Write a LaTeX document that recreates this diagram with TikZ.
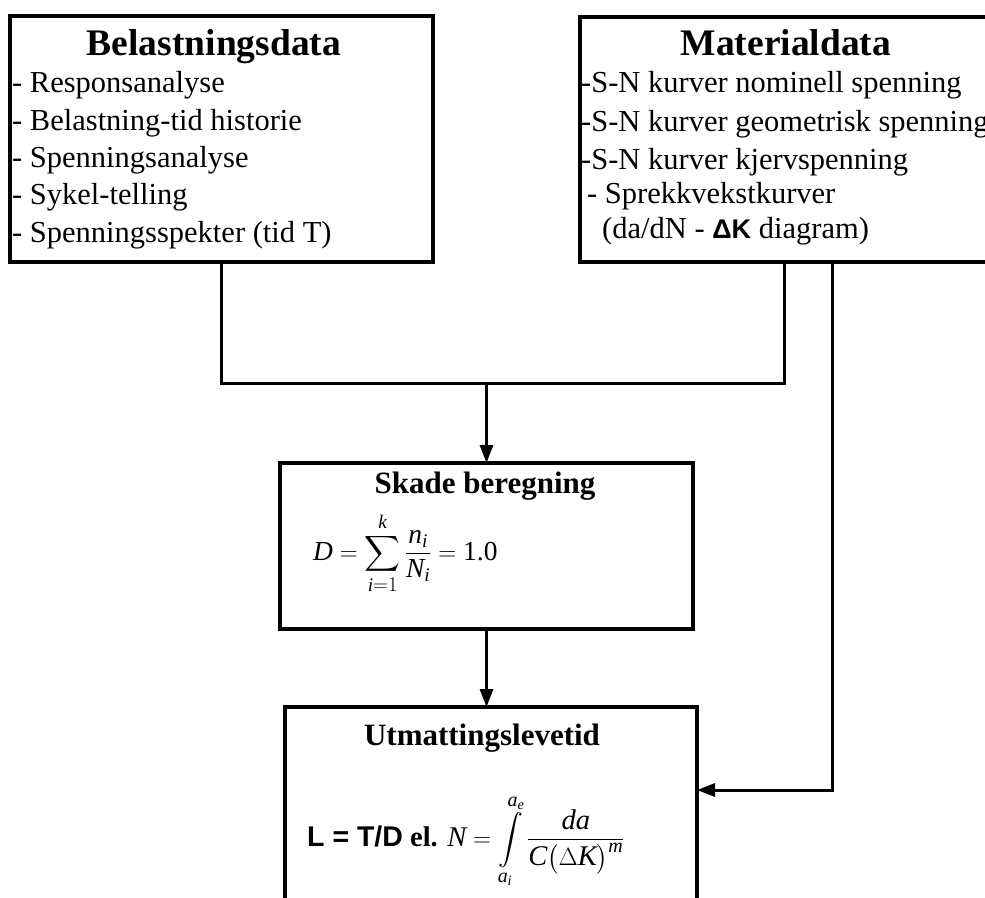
\documentclass[tikz,border=0pt]{standalone}
\usepackage{amsmath}
\usepackage{fontspec}
\setmainfont{Liberation Serif}
\setsansfont{Liberation Sans}
\usetikzlibrary{arrows.meta}

\newcommand\fsz[1]{\fontsize{#1}{#1}\selectfont}
\newcommand\vi[1]{\textit{#1}}

\begin{document}
\begin{tikzpicture}[x=1pt,y=-1pt,
  box/.style={draw, line width=3.2pt, rectangle, inner sep=0pt, outer sep=0pt},
  conn/.style={line width=3pt},
  arr/.style={conn, -{Triangle[length=18pt,width=13pt]}},
  head/.style={inner sep=0pt, anchor=base, font=\fsz{37.5}\bfseries},
  subhead/.style={inner sep=0pt, anchor=base, font=\fsz{31}\bfseries},
  item/.style={inner sep=0pt, anchor=base west, font=\fsz{30.5}},
  formula/.style={inner sep=0pt, anchor=base west},
]
\fill[white] (0,0) rectangle (985,897);
\useasboundingbox (0,0) rectangle (985,897);

% boxes
\node[box, minimum width=423pt, minimum height=246pt] (bel) at (221.5,139) {};
\node[box, minimum width=408pt, minimum height=245pt] (mat) at (784,139.5) {};
\node[box, minimum width=413pt, minimum height=166pt] (skade) at (486.5,546) {};
\node[box, minimum width=412pt, minimum height=253pt] (utm) at (491,833.5) {};

% load data
\node[head] (belT) at (214,55) {Belastningsdata};
\node[item] (bel1) at (12,92) {- Responsanalyse};
\node[item] (bel2) at (12,130) {- Belastning-tid historie};
\node[item] (bel3) at (12,167) {- Spenningsanalyse};
\node[item] (bel4) at (12,204) {- Sykel-telling};
\node[item] (bel5) at (12,242) {- Spenningsspekter (tid T)};

% material data
\node[head] (matT) at (786,55) {Materialdata};
\node[item] (mat1) at (581,92) {-S-N kurver nominell spenning};
\node[item] (mat2) at (581,131) {-S-N kurver geometrisk spenning};
\node[item] (mat3) at (581,169) {-S-N kurver kjervspenning};
\node[item] (mat4) at (587,203) {- Sprekkvekstkurver};
\node[item] (mat5) at (602,238) {(da/dN - {\sffamily\bfseries\fsz{27}ΔK} diagram)};

% damage calculation
\node[subhead] (skT) at (485,493) {Skade beregning};
\node[formula, font=\fsz{27.5}] (skF) at (313,560)
  {$\displaystyle \vi{D} = \sum_{\vi{i}=1}^{\vi{k}} \frac{\vi{n}_{\vi{i}}}{\vi{N}_{\vi{i}}} = \textrm{1.0}$};

% fatigue life
\node[subhead] (utT) at (482,745) {Utmattingslevetid};
\node[formula, font=\fsz{28.5}] (utF) at (307,846)
  {{\sffamily\bfseries L = T/D} \textbf{el.} $\displaystyle \vi{N} = \int\limits_{\vi{a}_{\vi{i}}}^{\vi{a}_{\vi{e}}} \frac{\vi{da}}{\vi{C}\bigl(\Delta \vi{K}\bigr)^{\vi{m}}}$};

% connectors
\coordinate (join) at (skade.north |- 0,383);
\draw[conn] (bel.south) |- (join) -| (mat.south);
\draw[arr] (join) -- (skade.north);
\draw[arr] (skade.south) -- (skade.south |- utm.north);
\draw[arr] ([xshift=48pt]mat.south) |- ([yshift=-83pt]utm.north east);
\end{tikzpicture}
\end{document}
